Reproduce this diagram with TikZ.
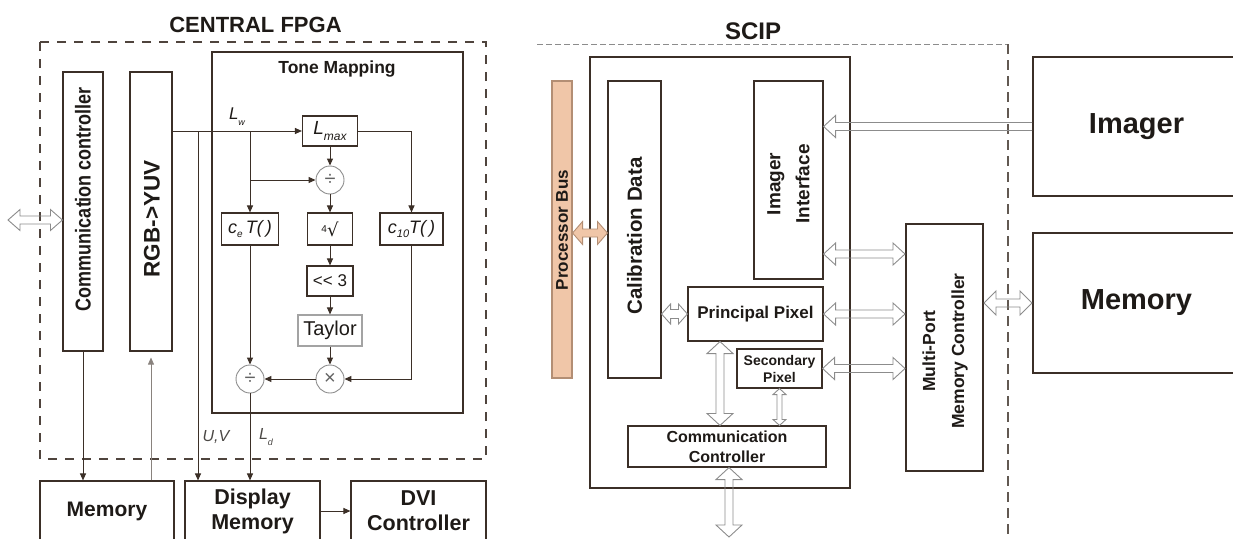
\documentclass[tikz,border=0pt]{standalone}
\usepackage{fontspec}
\setmainfont{Liberation Sans}
\newfontfamily\dvs{DejaVu Sans}
\usetikzlibrary{arrows.meta,calc}
\definecolor{lc}{HTML}{3B2F27}
\definecolor{hg}{HTML}{8C8C8C}
\definecolor{peach}{HTML}{F0C6A8}
\definecolor{peachd}{HTML}{B38E74}
\definecolor{txt}{HTML}{1E1A17}
\newcommand{\fsz}[2]{\fontsize{#1}{#2}\selectfont}
% hollow double-headed arrow: [opts]{start}{end}{head length}{head half width}{shaft half width}
\newcommand{\hdouble}[6][]{%
  \draw[hollow,#1] let \p1=(#2), \p2=(#3), \n1={atan2(\y2-\y1,\x2-\x1)}, \n2={veclen(\x2-\x1,\y2-\y1)} in
  [shift={(\p1)}, rotate=\n1] (0,0) -- (#4,#5) -- (#4,#6) -- ({\n2-#4},#6) -- ({\n2-#4},#5) -- (\n2,0)
  -- ({\n2-#4},-#5) -- ({\n2-#4},-#6) -- (#4,-#6) -- (#4,-#5) -- cycle;}
% hollow single-headed arrow (head at end)
\newcommand{\hsingle}[6][]{%
  \draw[hollow,#1] let \p1=(#2), \p2=(#3), \n1={atan2(\y2-\y1,\x2-\x1)}, \n2={veclen(\x2-\x1,\y2-\y1)} in
  [shift={(\p1)}, rotate=\n1] (0,#6) -- ({\n2-#4},#6) -- ({\n2-#4},#5) -- (\n2,0)
  -- ({\n2-#4},-#5) -- ({\n2-#4},-#6) -- (0,-#6);}
\begin{document}
\begin{tikzpicture}[x=1pt,y=-1pt,
  box/.style={draw=lc, line width=1.1pt, inner sep=0pt, text=txt, align=center},
  bigbox/.style={box, line width=2pt},
  circ/.style={circle, draw=hg, line width=0.9pt, minimum size=28pt, inner sep=0pt, text=hg!70!black, font=\fsz{20}{20}},
  conn/.style={draw=lc, line width=1pt, -{Triangle[length=7pt,width=6pt]}},
  lbl/.style={text=txt, inner sep=0pt, font=\bfseries},
  hollow/.style={draw=hg, line width=0.9pt, line join=miter},
  orange/.style={draw=peachd, fill=peach},
]
\useasboundingbox (0,0) rectangle (1233,538);

% ================= CENTRAL FPGA =================
\node[lbl, font=\bfseries\fsz{22}{22}] (tfpga) at (255.5,25) {CENTRAL FPGA};
\draw[draw=lc!90!white, line width=1.7pt, dash pattern=on 9pt off 8pt] (40,42) rectangle (486,459);

\node[box, minimum width=40pt, minimum height=279pt] (cc) at (83,211.5) {};
\node[lbl, rotate=90, yscale=1.2, font=\bfseries\fsz{18}{18}] (cct) at (83,199) {Communication controller};
\node[box, minimum width=42pt, minimum height=279pt] (rgb) at (151,211.5) {};
\node[lbl, rotate=90, font=\bfseries\fsz{22.5}{22.5}] (rgbt) at (152,219) {RGB->YUV};

\node[box, line width=2.5pt, minimum width=251pt, minimum height=361pt] (tm) at (337.5,232.5) {};
\node[lbl, font=\bfseries\fsz{17.5}{17.5}] (tmt) at (337,69) {Tone Mapping};

\node[box, minimum width=55pt, minimum height=30pt, font=\itshape] (lmax) at (330,131)
  {\fsz{19}{19}L\raisebox{-6pt}{\fsz{12}{12}max}};
\node[circ] (div1) at (330,180) {÷};
\node[box, minimum width=57pt, minimum height=32pt, font=\itshape] (ce) at (250,229)
  {\fsz{18}{18}c\raisebox{-4pt}{\fsz{10}{10}e}\,T(\,)};
\node[box, minimum width=45pt, minimum height=32pt] (root) at (330,229)
  {\raisebox{4pt}{\fsz{10}{10}4}{\dvs\fsz{18}{18}√}};
\node[box, minimum width=63pt, minimum height=32pt, font=\itshape] (c10) at (411.5,229)
  {\fsz{18}{18}c\raisebox{-4pt}{\fsz{11}{11}10}T(\,)};
\node[box, minimum width=46pt, minimum height=30pt, font=\fsz{17}{17}] (sh) at (330,281) {<{}< 3};
\node[box, draw=hg!80!white, minimum width=64pt, minimum height=31pt, font=\fsz{20}{20}] (tay) at (330,330.5) {Taylor};
\node[circ] (mul) at (330,379) {×};
\node[circ] (div2) at (250,379) {÷};

\node[box, minimum width=134pt, minimum height=60pt, font=\bfseries\fsz{21}{21}] (mem) at (107,511) {Memory};
\node[box, minimum width=135pt, minimum height=60pt, font=\bfseries\fsz{21.5}{25}] (dmem) at (252.5,511) {Display\\Memory};
\node[box, minimum width=135pt, minimum height=60pt, font=\bfseries\fsz{21.5}{25}] (dvi) at (418.5,511) {DVI\\Controller};

\node[text=txt, inner sep=0pt, font=\itshape\fsz{17}{17}] (lwt) at (237,117) {L\raisebox{-6pt}{\fsz{9}{9}w}};
\node[text=txt!80!white, inner sep=0pt, font=\itshape\fsz{16}{16}] (uvt) at (216,437) {U,V};
\node[text=txt!80!white, inner sep=0pt, font=\itshape\fsz{16}{16}] (ldt) at (266,437) {L\raisebox{-6pt}{\fsz{9}{9}d}};

% connectors
\draw[conn] (rgb.east |- lmax.west) -- (lmax.west);
\coordinate (uv) at (198,131);
\draw[conn] (uv) -- (uv |- dmem.north);
\coordinate (lw) at (ce.north |- lmax.west);
\draw[conn] (lw) -- (ce.north);
\coordinate (lw2) at (ce.north |- div1.west);
\draw[conn] (lw2) -- (div1.west);
\draw[conn] (lmax.south) -- (div1.north);
\draw[conn] (div1.south) -- (root.north);
\draw[conn] (root.south) -- (sh.north);
\draw[conn] (sh.south) -- (tay.north);
\draw[conn] (tay.south) -- (mul.north);
\draw[conn] (lmax.east) -| (c10.north);
\draw[conn] (c10.south) |- (mul.east);
\draw[conn] (mul.west) -- (div2.east);
\draw[conn] (ce.south) -- (div2.north);
\draw[conn] (div2.south) -- (div2.south |- dmem.north);
\draw[conn] (cc.south) -- (cc.south |- mem.north);
\draw[conn, draw=lc!60!white, line width=0.7pt, shorten >=6pt] (mem.north -| rgb.south) -- (rgb.south);
\draw[conn] (dmem.east) -- (dvi.west);
\coordinate (ext) at (8,220);
\hdouble{ext}{cc.west |- ext}{12}{10.5}{4}

% ================= SCIP =================
\node[lbl, font=\bfseries\fsz{24}{24}] (tscip) at (753,31) {SCIP};
\draw[draw=hg, line width=0.9pt, dash pattern=on 6pt off 3pt] (537,44) -- (1008,44);
\draw[draw=lc!80!white, line width=1.4pt, dash pattern=on 10pt off 6pt] (1008,44) -- (1008,538);

\node[bigbox, minimum width=260pt, minimum height=431pt] (scip) at (720,272.5) {};
\node[box, fill=peach, draw=peachd, minimum width=20pt, minimum height=297pt] (bus) at (562,229.5) {};
\node[lbl, rotate=90, font=\bfseries\fsz{17}{17}] (bust) at (562,230) {Processor Bus};
\node[box, minimum width=53pt, minimum height=297pt] (cal) at (634.5,229.5) {};
\node[lbl, rotate=90, font=\bfseries\fsz{20.5}{20.5}] (calt) at (634.5,236) {Calibration Data};
\node[box, minimum width=69pt, minimum height=198pt] (iif) at (788.5,180) {};
\node[lbl, rotate=90, align=center, font=\bfseries\fsz{19}{29}] (iift) at (788.5,184) {Imager\\Interface};
\node[box, minimum width=135pt, minimum height=54pt, font=\bfseries\fsz{17}{17}] (pp) at (755.5,314) {Principal Pixel};
\node[box, minimum width=85pt, minimum height=39pt, font=\bfseries\fsz{14}{17}] (spx) at (779.5,368.5) {Secondary\\Pixel};
\node[box, minimum width=198pt, minimum height=41pt, font=\bfseries\fsz{16}{20}] (com) at (727,446.5) {Communication\\Controller};
\node[bigbox, minimum width=77pt, minimum height=247pt] (mpmc) at (944.5,347.5) {};
\node[lbl, rotate=90, align=center, font=\bfseries\fsz{17.5}{29}] (mpmct) at (945,351) {Multi-Port\\Memory Controller};
\node[bigbox, minimum width=207pt, minimum height=139pt, font=\bfseries\fsz{29}{29}] (img) at (1136.5,126.5) {Imager};
\node[bigbox, minimum width=207pt, minimum height=140pt, font=\bfseries\fsz{29}{29}] (rmem) at (1136.5,303) {Memory};

% SCIP connectors (hollow arrows)
\hsingle{img.west}{iif.east |- img.west}{12}{11}{4}
\coordinate (y1) at (0,254);
\hdouble{iif.east |- y1}{mpmc.west |- y1}{12}{11}{4}
\hdouble{pp.east}{mpmc.west |- pp.east}{12}{11}{4}
\hdouble{spx.east}{mpmc.west |- spx.east}{12}{11}{4}
\hdouble{cal.east |- pp.west}{pp.west}{9}{10}{4.5}
\hdouble{mpmc.east |- rmem.west}{rmem.west}{12}{12}{4}
\coordinate (y2) at (0,233);
\hdouble[orange]{bus.east |- y2}{cal.west |- y2}{10}{11.5}{4}
\coordinate (x1) at (720,0);
\hdouble{pp.south -| x1}{com.north -| x1}{12}{13}{4}
\hdouble{spx.south}{com.north -| spx.south}{6}{6.5}{2.5}
\coordinate (cb) at (729,537);
\hdouble{com.south -| cb}{cb}{12}{13}{4}
\end{tikzpicture}
\end{document}
